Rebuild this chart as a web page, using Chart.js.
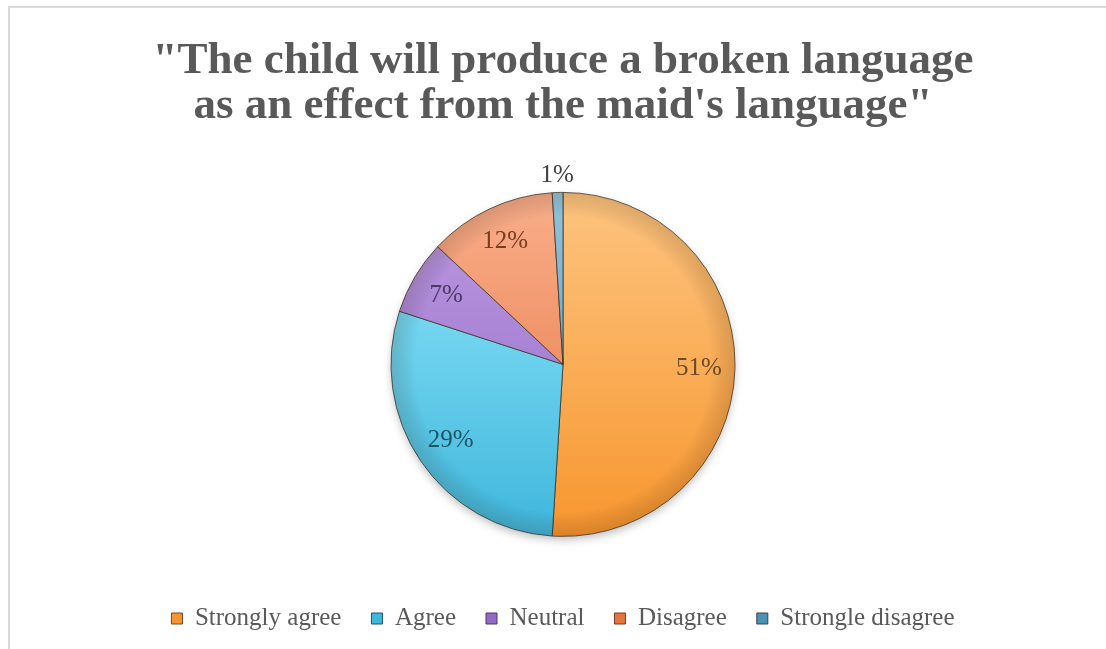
<!DOCTYPE html>
<html>
<head>
<meta charset="utf-8">
<script src="https://cdn.jsdelivr.net/npm/chart.js@4.4.1/dist/chart.umd.min.js"></script>
<style>
  html, body { margin: 0; padding: 0; background: #fff; overflow: hidden; }
  #frame {
    position: absolute; left: 8px; top: 6px;
    width: 1110px; height: 660px;
    border-left: 2px solid #d9d9d9;
    border-top: 2px solid #d9d9d9;
  }
  #chart { display: block; }
</style>
</head>
<body>
<div id="frame"><canvas id="chart" width="1106" height="641"></canvas></div>
<script>
// survey answers, percent of respondents
const categories = ['Strongly agree', 'Agree', 'Neutral', 'Disagree', 'Strongle disagree'];
const shares = [51, 29, 7, 12, 1];

const titleLines = ['"The child will produce a broken language', 'as an effect from the maid\'s language"'];

// light top / darker bottom of each slice, plus label ink
const topColors = ['#fdc47f', '#93e8fb', '#bc9ae2', '#f9ae8b', '#93c3da'];
const baseColors = ['#f7962f', '#3fb6dc', '#9369c6', '#e6743f', '#4a93b6'];
const labelColors = ['#6b4a2a', '#1d5467', '#4b3968', '#7a3b1f', '#404040'];

const PIE_RADIUS = 172;
const SERIF = '"Liberation Serif", "Times New Roman", serif';

function sliceFill(context) {
  const chart = context.chart;
  const area = chart.chartArea;
  const i = context.dataIndex;
  if (!area) return baseColors[i];
  const cy = (area.top + area.bottom) / 2;
  const g = chart.ctx.createLinearGradient(0, cy - PIE_RADIUS, 0, cy + PIE_RADIUS);
  g.addColorStop(0, topColors[i]);
  g.addColorStop(1, baseColors[i]);
  return g;
}

// soft drop shadow under the pie and a darker rim on top of it
const pieShading = {
  id: 'pieShading',
  beforeDatasetsDraw(chart) {
    const arc = chart.getDatasetMeta(0).data[0];
    if (!arc) return;
    const ctx = chart.ctx;
    ctx.save();
    ctx.shadowColor = 'rgba(0,0,0,0.28)';
    ctx.shadowBlur = 10;
    ctx.shadowOffsetY = 4;
    ctx.fillStyle = '#ffffff';
    ctx.beginPath();
    ctx.arc(arc.x, arc.y, arc.outerRadius - 1, 0, Math.PI * 2);
    ctx.fill();
    ctx.restore();
  },
  afterDatasetsDraw(chart) {
    const arc = chart.getDatasetMeta(0).data[0];
    if (!arc) return;
    const ctx = chart.ctx;
    const r = arc.outerRadius;
    const g = ctx.createRadialGradient(arc.x, arc.y, r * 0.86, arc.x, arc.y, r);
    g.addColorStop(0, 'rgba(0,0,0,0)');
    g.addColorStop(1, 'rgba(60,30,0,0.16)');
    ctx.save();
    ctx.fillStyle = g;
    ctx.beginPath();
    ctx.arc(arc.x, arc.y, r, 0, Math.PI * 2);
    ctx.fill();
    ctx.restore();
  }
};

// percentage labels inside the slices, tiny slices get theirs outside
const sliceLabels = {
  id: 'sliceLabels',
  afterDatasetsDraw(chart) {
    const ctx = chart.ctx;
    const meta = chart.getDatasetMeta(0);
    ctx.save();
    ctx.font = '25px ' + SERIF;
    ctx.textAlign = 'center';
    ctx.textBaseline = 'middle';
    meta.data.forEach((arc, i) => {
      const p = arc.getProps(['x', 'y', 'startAngle', 'endAngle', 'outerRadius'], true);
      const mid = (p.startAngle + p.endAngle) / 2;
      const r = shares[i] < 3 ? p.outerRadius + 17 : p.outerRadius * 0.79;
      ctx.fillStyle = labelColors[i];
      ctx.fillText(shares[i] + '%', p.x + Math.cos(mid) * r, p.y + Math.sin(mid) * r);
    });
    ctx.restore();
  }
};

new Chart(document.getElementById('chart'), {
  type: 'pie',
  data: {
    labels: categories,
    datasets: [{
      data: shares,
      backgroundColor: sliceFill,
      borderColor: 'rgba(55,45,35,0.75)',
      borderWidth: 1,
      radius: PIE_RADIUS
    }]
  },
  options: {
    responsive: false,
    animation: false,
    devicePixelRatio: 1,
    layout: { padding: { bottom: 8 } },
    plugins: {
      title: {
        display: true,
        text: titleLines,
        color: '#595959',
        font: { family: SERIF, size: 45, weight: 'bold', lineHeight: 1.02 },
        padding: { top: 30, bottom: 23 }
      },
      legend: {
        position: 'bottom',
        labels: {
          color: '#595959',
          font: { family: SERIF, size: 25 },
          boxWidth: 11,
          boxHeight: 11,
          padding: 30,
          generateLabels(chart) {
            return categories.map((c, i) => ({
              text: c,
              fillStyle: baseColors[i],
              strokeStyle: labelColors[i],
              lineWidth: 1,
              fontColor: '#595959',
              index: i
            }));
          }
        }
      },
      tooltip: { enabled: false }
    }
  },
  plugins: [pieShading, sliceLabels]
});
</script>
</body>
</html>
